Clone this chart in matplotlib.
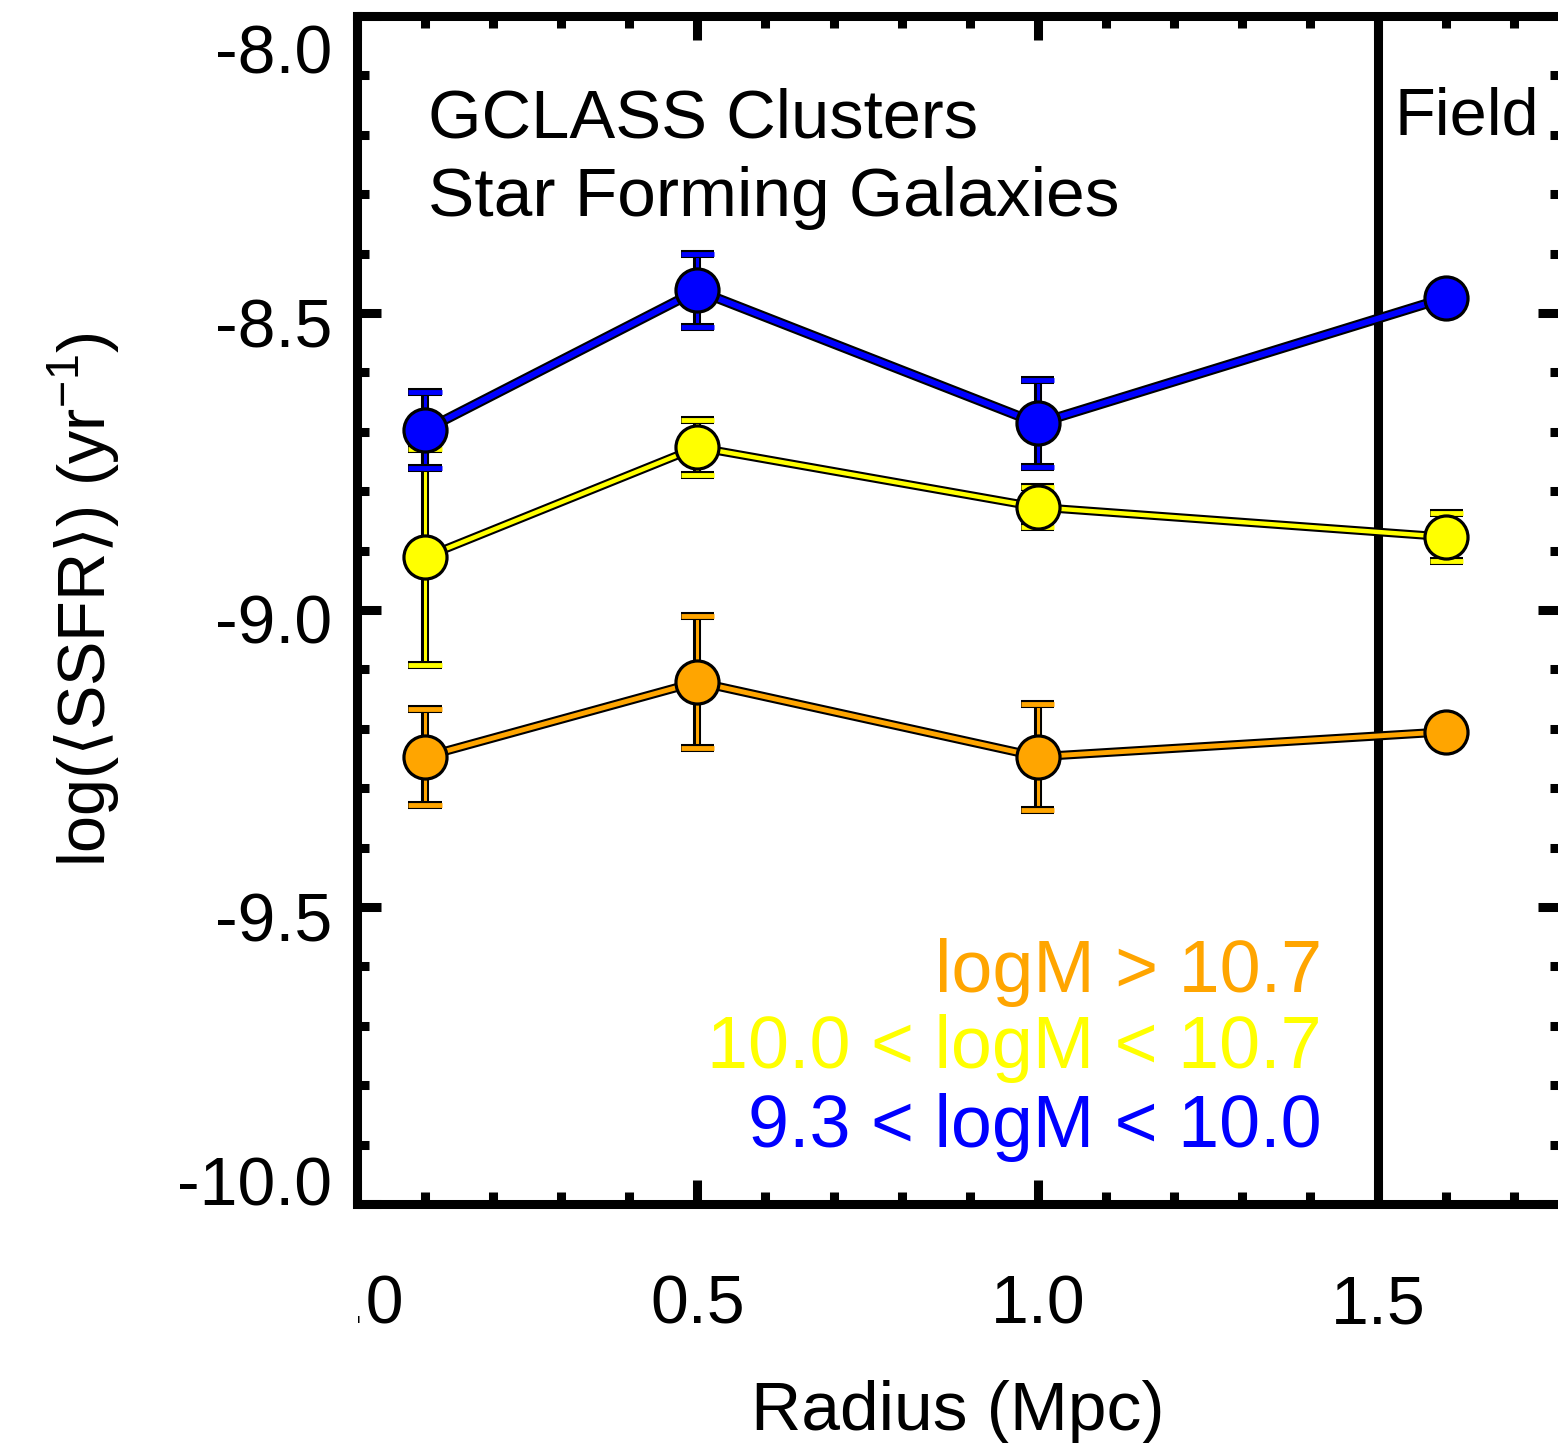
import matplotlib
matplotlib.use('Agg')
import matplotlib.pyplot as plt
import matplotlib.patheffects as pe
import matplotlib.transforms as mtransforms
from matplotlib.patches import Rectangle

plt.rcParams['font.family'] = ['Liberation Sans', 'DejaVu Sans']
plt.rcParams['mathtext.fontset'] = 'dejavusans'
plt.rcParams['axes.unicode_minus'] = False

# radius bins (Mpc); last one is the field point
radius = [0.1, 0.5, 1.0, 1.6]
# log <SSFR> per mass bin
ssfr_hi = [-9.247, -9.121, -9.247, -9.205]   # logM > 10.7
err_hi = [0.081, 0.111, 0.089, 0.02]
ssfr_mid = [-8.911, -8.726, -8.827, -8.877]  # 10.0 < logM < 10.7
err_mid = [0.182, 0.046, 0.034, 0.041]
ssfr_lo = [-8.697, -8.462, -8.686, -8.474]   # 9.3 < logM < 10.0
err_lo = [0.064, 0.061, 0.073, 0.02]

labels = ['logM > 10.7', '10.0 < logM < 10.7', '9.3 < logM < 10.0']
colors = ['#FFA500', '#FFFF00', '#0000FF']
yticks = [-10.0, -9.5, -9.0, -8.5, -8.0]
xticks = [0.0, 0.5, 1.0, 1.5]

W, H = 1558, 1443
fig = plt.figure(figsize=(W/100, H/100), dpi=100)
ax = fig.add_axes([357/W, 1-1204/H, (1562-357)/W, (1204-16)/H])
ax.set_xlim(0, 1.77)
ax.set_ylim(-10, -8)

def plot_series(y, e, c, lw, z):
  outline = [pe.Stroke(linewidth=lw+3, foreground='k'), pe.Normal()]
  eb = ax.errorbar(radius, y, yerr=e, fmt='none', ecolor=c, elinewidth=2.2,
                   capsize=12, capthick=3.5, zorder=z)
  for art in list(eb[1]) + list(eb[2]):
    art.set_path_effects([pe.Stroke(linewidth=5.8, foreground='k'), pe.Normal()])
  ax.plot(radius, y, color=c, lw=lw, zorder=z+0.1, path_effects=outline,
          solid_capstyle='round')
  ax.plot(radius, y, 'o', ms=31, mfc=c, mec='k', mew=2.3, zorder=z+0.2)

plot_series(ssfr_hi, err_hi, colors[0], 3.5, 3)
plot_series(ssfr_mid, err_mid, colors[1], 3.2, 4)
plot_series(ssfr_lo, err_lo, colors[2], 4.2, 5)

ax.axvline(1.5, color='k', lw=6.5, zorder=2)

for s in ax.spines.values():
  s.set_linewidth(6.5)
ax.set_xticks(xticks)
ax.set_xticklabels(['%.1f' % v for v in xticks])
ax.set_yticks(yticks)
ax.set_yticklabels(['%.1f' % v for v in yticks])
ax.set_xticks([i/10 for i in range(0, 18)], minor=True)
ax.set_yticks([-10 + i/10 for i in range(0, 21)], minor=True)
ax.tick_params(which='both', direction='in', top=True, right=True, width=6.5, labelsize=49)
ax.tick_params(which='major', length=17.5)
ax.tick_params(which='minor', length=8.5)
ax.tick_params(axis='x', pad=50)
ax.tick_params(axis='y', pad=18)

# y labels sit a bit off their ticks in the original
shifts = [-23, 10, 9, 9, 33]
for lab, dy in zip(ax.get_yticklabels(), shifts):
  lab.set_transform(lab.get_transform() + mtransforms.ScaledTranslation(0, -dy/100, fig.dpi_scale_trans))

ax.text(0.104, -8.204, 'GCLASS Clusters', fontsize=49.5, ha='left', va='baseline')
ax.text(0.104, -8.337, 'Star Forming Galaxies', fontsize=50, ha='left', va='baseline')
ax.text(1.524, -8.200, 'Field', fontsize=48, ha='left', va='baseline')

leg_y = [-9.643, -9.771, -9.904]
for t, c, yy in zip(labels, colors, leg_y):
  ax.text(1.417, yy, t, color=c, fontsize=53, ha='right', va='baseline')

fig.text(84/W, 1-600/H, r'log($\langle$SSFR$\rangle$) (yr$^{\mathregular{-1}}$)', rotation=90,
         fontsize=48, ha='center', va='center')
fig.text(958/W, 1-1430/H, 'Radius (Mpc)', fontsize=50, ha='center', va='baseline')

# the leading zero of the first x label is cut off in the original
fig.patches.append(Rectangle((0, 1-1350/H), 358/W, 110/H, transform=fig.transFigure,
                             facecolor='white', edgecolor='none', zorder=10))

fig.savefig('out.png', dpi=100)
